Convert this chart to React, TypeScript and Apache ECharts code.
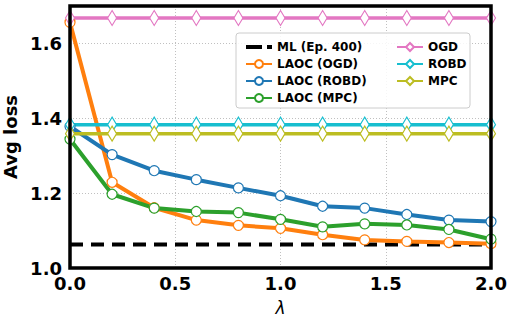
import React, { useEffect, useRef } from "react";
import * as echarts from "echarts";

const lambdas = [0, 0.2, 0.4, 0.6, 0.8, 1.0, 1.2, 1.4, 1.6, 1.8, 2.0];
const laocOGD = [1.656, 1.229, 1.161, 1.128, 1.114, 1.106, 1.089, 1.075, 1.071, 1.068, 1.065];
const laocROBD = [1.378, 1.303, 1.26, 1.236, 1.214, 1.193, 1.165, 1.16, 1.143, 1.128, 1.124];
const laocMPC = [1.344, 1.197, 1.16, 1.151, 1.148, 1.13, 1.11, 1.118, 1.115, 1.103, 1.077];
const ogd = [1.668, 1.668, 1.668, 1.668, 1.668, 1.668, 1.668, 1.668, 1.668, 1.668, 1.668];
const robd = [1.383, 1.383, 1.383, 1.383, 1.383, 1.383, 1.383, 1.383, 1.383, 1.383, 1.383];
const mpc = [1.359, 1.359, 1.359, 1.359, 1.359, 1.359, 1.359, 1.359, 1.359, 1.359, 1.359];
const mlX = [0, 2.0];
const mlY = [1.063, 1.063];
const xTicks = { min: 0, max: 2, interval: 0.5 };
const yTicks = { min: 1.0, max: 1.7, interval: 0.2 };

const FONT = "DejaVu Sans";
const GRID = { left: 70, right: 24, top: 6, bottom: 55 };
const W = 515;
const H = 323;

const pair = (xs: number[], ys: number[]) => xs.map((x, i) => [x, ys[i]]);

export default function App() {
  const ref = useRef<HTMLDivElement>(null);
  useEffect(() => {
    if (!ref.current) return;
    const chart = echarts.init(ref.current, null, { renderer: "svg" });
    const circleSeries = (name: string, color: string, ys: number[]) => ({
      name,
      type: "line",
      data: pair(lambdas, ys),
      symbol: "circle",
      symbolSize: 10,
      showAllSymbol: true,
      lineStyle: { color, width: 4 },
      itemStyle: { color: "#ffffff", borderColor: color, borderWidth: 1.2 },
      z: 3,
    });
    const diamondSeries = (name: string, color: string, ys: number[]) => ({
      name,
      type: "line",
      data: pair(lambdas, ys),
      symbol: "diamond",
      symbolSize: [9, 15],
      showAllSymbol: true,
      lineStyle: { color, width: 3.5 },
      itemStyle: { color: "#ffffff", borderColor: color, borderWidth: 1.2 },
      z: 3,
    });
    const legendText = { fontFamily: FONT, fontWeight: "bold", fontSize: 12, color: "#000" };
    const gridLine = { show: true, lineStyle: { color: "#b0b0b0", type: [1, 2], width: 0.8 } };
    const frameData = [
      [xTicks.min, yTicks.min],
      [xTicks.max, yTicks.min],
      [xTicks.max, yTicks.max],
      [xTicks.min, yTicks.max],
      [xTicks.min, yTicks.min],
    ];
    chart.setOption({
      animation: false,
      grid: { ...GRID, outerBoundsMode: "none" },
      xAxis: {
        type: "value",
        ...xTicks,
        name: "λ",
        nameLocation: "middle",
        nameGap: 31,
        nameTextStyle: { fontFamily: FONT, fontStyle: "italic", fontSize: 17, color: "#000" },
        axisLine: { show: false },
        axisTick: { show: false },
        axisLabel: {
          fontFamily: FONT,
          fontWeight: "bold",
          fontSize: 18,
          color: "#000",
          margin: 6,
          formatter: (v: number) => v.toFixed(1),
        },
        splitLine: gridLine,
      },
      yAxis: {
        type: "value",
        ...yTicks,
        name: "Avg loss",
        nameLocation: "middle",
        nameGap: 45,
        nameRotate: 90,
        nameTextStyle: { fontFamily: FONT, fontWeight: "bold", fontSize: 18, color: "#000" },
        axisLine: { show: false },
        axisTick: { show: false },
        axisLabel: {
          fontFamily: FONT,
          fontWeight: "bold",
          fontSize: 18,
          color: "#000",
          margin: 8,
          formatter: (v: number) => (Math.abs(v - 1.7) < 1e-6 ? "" : v.toFixed(1)),
        },
        splitLine: gridLine,
      },
      graphic: [
        {
          type: "rect",
          z: 10,
          shape: { x: 236, y: 33, width: 234, height: 75, r: 3 },
          style: { fill: "rgba(255,255,255,0.85)", stroke: "#cccccc", lineWidth: 1 },
        },
      ],
      legend: [
        {
          orient: "vertical",
          left: 240,
          top: 36,
          itemWidth: 26,
          itemHeight: 10,
          itemGap: 5,
          z: 11,
          textStyle: legendText,
          data: [
            { name: "ML (Ep. 400)", icon: "path://M0,0h16v4h-16z M21,0h5v4h-5z" },
            "LAOC (OGD)",
            "LAOC (ROBD)",
            "LAOC (MPC)",
          ],
        },
        {
          orient: "vertical",
          left: 391,
          top: 36,
          itemWidth: 26,
          itemHeight: 10,
          itemGap: 5,
          z: 11,
          textStyle: legendText,
          data: ["OGD", "ROBD", "MPC"],
        },
      ],
      series: [
        {
          name: "ML (Ep. 400)",
          type: "line",
          data: pair(mlX, mlY),
          symbol: "none",
          lineStyle: { color: "#000", width: 4, type: [13, 8] },
          itemStyle: { color: "#000" },
          z: 2,
        },
        circleSeries("LAOC (OGD)", "#ff7f0e", laocOGD),
        circleSeries("LAOC (ROBD)", "#1f77b4", laocROBD),
        circleSeries("LAOC (MPC)", "#2ca02c", laocMPC),
        diamondSeries("OGD", "#e377c2", ogd),
        diamondSeries("ROBD", "#17becf", robd),
        diamondSeries("MPC", "#bcbd22", mpc),
        {
          name: "frame",
          type: "line",
          data: frameData,
          symbol: "none",
          clip: false,
          silent: true,
          tooltip: { show: false },
          lineStyle: { color: "#000", width: 3.5, join: "miter", cap: "square" },
          z: 4,
        },
      ],
    });
    return () => chart.dispose();
  }, []);
  return <div ref={ref} style={{ width: W, height: H, position: "absolute", left: 0, top: 0 }} />;
}
